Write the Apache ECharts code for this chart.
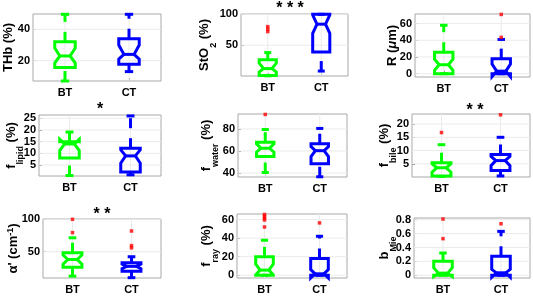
<!DOCTYPE html>
<html><head><meta charset="utf-8">
<script src="https://cdn.jsdelivr.net/npm/echarts@6/dist/echarts.min.js"></script>
<style>html,body{margin:0;padding:0;background:#fff}#c{width:533px;height:296px}</style>
</head><body><div id="c"></div>
<script>
const categories = ['BT', 'CT'];
// box stats: [lowerWhisker, q1, notchLow, median, notchHigh, q3, upperWhisker]
const thbBT = [7, 15.6, 18.5, 23, 28, 32, 49.6];
const thbCT = [13, 17.7, 21, 24, 30, 34, 49.6];
const thbOutBT = [], thbOutCT = [];
const thbTicks = [20, 40];

const sto2BT = [0.3, 1, 6.5, 12, 21, 26.5, 38];
const sto2CT = [8, 39, 69, 84, 99, 100, 100];
const sto2OutBT = [72, 76, 80], sto2OutCT = [];
const sto2Ticks = [50, 100];

const rBT = [0, 0, 4, 10.7, 17.4, 25.7, 58];
const rCT = [0, 0, -3.5, 3, 11.5, 18, 41];
const rOutBT = [], rOutCT = [43.5, 71];
const rTicks = [0, 20, 40, 60];

const lipidBT = [0.5, 8, 11.2, 14, 16, 15, 19.1];
const lipidCT = [0.8, 2, 5.8, 8.9, 11.5, 12.2, 26];
const lipidOutBT = [], lipidOutCT = [];
const lipidTicks = [5, 10, 15, 20, 25];

const waterBT = [40.5, 55, 59, 62.5, 66.5, 68, 79.5];
const waterCT = [36.6, 48.5, 55, 60.3, 64, 66.6, 80.5];
const waterOutBT = [93.2], waterOutCT = [];
const waterTicks = [40, 60, 80];

const bileBT = [0.2, 0.4, 1.8, 3.5, 5, 5.4, 12.2];
const bileCT = [0.4, 2.5, 4.3, 6.2, 7.8, 8.5, 15];
const bileOutBT = [16.8], bileOutCT = [23.5];
const bileTicks = [5, 10, 15, 20];

const alphaBT = [12.4, 26, 31, 38, 45, 48.5, 71.5];
const alphaCT = [10, 20, 24, 27.5, 31, 33, 42.3];
const alphaOutBT = [79.5, 100], alphaOutCT = [56, 59.5, 82];
const alphaTicks = [50, 100];

const rayBT = [0, 0, 0.5, 5.5, 12, 19.8, 37.7];
const rayCT = [0, 0, -3, 1.5, 6, 18, 42];
const rayOutBT = [52, 59.5, 61.5, 63.5, 65.5], rayOutCT = [56.4];
const rayTicks = [0, 20, 40, 60];

const mieBT = [0, 0, -0.02, 0.03, 0.11, 0.2, 0.32];
const mieCT = [0, 0, -0.03, 0.035, 0.085, 0.273, 0.632];
const mieOutBT = [0.527, 0.81], mieOutCT = [0.742];
const mieTicks = [0, 0.2, 0.4, 0.6, 0.8];

const FONT = '"Liberation Sans", Arial, Helvetica, sans-serif';
const BOXCOL = ['#00ff00', '#0000ff'];
const RED = '#ff0000';

const mSub = {fontSize: 13, fontWeight: 'bold', fontFamily: FONT, color: '#000', lineHeight: 14, verticalAlign: 'top'};
const sSub = {fontSize: 9, fontWeight: 'bold', fontFamily: FONT, color: '#000', lineHeight: 20, verticalAlign: 'bottom'};
const mPlain = {fontSize: 13, fontWeight: 'bold', fontFamily: FONT, color: '#000', lineHeight: 14};

const panels = [
  {name: '{m|THb (%)}', rich: {m: mPlain}, g: [33, 14, 128, 67], min: 7, max: 49.8, ticks: thbTicks, bt: thbBT, ct: thbCT, oBT: thbOutBT, oCT: thbOutCT, gap: 18},
  {name: '{m|StO}{s|2}{m| (%)}', rich: {m: mSub, s: sSub}, g: [241, 14, 107, 62], min: 0, max: 100.5, ticks: sto2Ticks, bt: sto2BT, ct: sto2CT, oBT: sto2OutBT, oCT: sto2OutCT, gap: 23},
  {name: '{m|R (}{i|μ}{m|m)}', rich: {m: mPlain, i: Object.assign({}, mPlain, {fontStyle: 'italic'})}, g: [415, 14, 115, 63], min: -4, max: 71.5, ticks: rTicks, bt: rBT, ct: rCT, oBT: rOutBT, oCT: rOutCT, gap: 16},
  {name: '{m|f}{s|lipid}{m| (%)}', rich: {m: mSub, s: sSub}, g: [39, 115, 122, 61], min: 0.3, max: 26.4, ticks: lipidTicks, bt: lipidBT, ct: lipidCT, oBT: lipidOutBT, oCT: lipidOutCT, gap: 14},
  {name: '{m|f}{s|water}{m| (%)}', rich: {m: mSub, s: sSub}, g: [238, 114, 109, 63], min: 36.4, max: 93.6, ticks: waterTicks, bt: waterBT, ct: waterCT, oBT: waterOutBT, oCT: waterOutCT, gap: 18},
  {name: '{m|f}{s|bile}{m| (%)}', rich: {m: mSub, s: sSub}, g: [412, 114, 118, 63], min: 0, max: 23.8, ticks: bileTicks, bt: bileBT, ct: bileCT, oBT: bileOutBT, oCT: bileOutCT, gap: 14},
  {name: "{m|α' (cm}{p|-1}{m|)}", rich: {m: Object.assign({}, mPlain, {verticalAlign: 'bottom'}), p: {fontSize: 9, fontWeight: 'bold', fontFamily: FONT, color: '#000', lineHeight: 4, verticalAlign: 'top'}}, g: [43, 219, 118, 59], min: 9.5, max: 100.5, ticks: alphaTicks, bt: alphaBT, ct: alphaCT, oBT: alphaOutBT, oCT: alphaOutCT, gap: 23},
  {name: '{m|f}{s|ray}{m| (%)}', rich: {m: mSub, s: sSub}, g: [237, 214, 110, 64], min: -3, max: 66, ticks: rayTicks, bt: rayBT, ct: rayCT, oBT: rayOutBT, oCT: rayOutCT, gap: 17},
  {name: '{m|b}{s|Mie}', rich: {m: mSub, s: sSub}, g: [414, 218, 116, 60], min: -0.04, max: 0.825, ticks: mieTicks, bt: mieBT, ct: mieCT, oBT: mieOutBT, oCT: mieOutCT, gap: 16}
];

function boxRender(params, api) {
  const ci = api.value(0);
  const lw = api.value(1), q1 = api.value(2), nl = api.value(3), md = api.value(4), nh = api.value(5), q3 = api.value(6), uw = api.value(7);
  const band = api.size([1, 0])[0];
  const cx = api.coord([ci, md])[0];
  const Y = t => api.coord([ci, t])[1];
  const hw = band * 0.16, nw = hw * 0.5, cw = band * 0.065;
  const col = BOXCOL[ci];
  const st = {stroke: col, lineWidth: 3, fill: null};
  return {type: 'group', children: [
    {type: 'polygon', shape: {points: [[cx - hw, Y(q1)], [cx - hw, Y(nl)], [cx - nw, Y(md)], [cx - hw, Y(nh)], [cx - hw, Y(q3)], [cx + hw, Y(q3)], [cx + hw, Y(nh)], [cx + nw, Y(md)], [cx + hw, Y(nl)], [cx + hw, Y(q1)]]}, style: Object.assign({lineJoin: 'miter'}, st)},
    {type: 'line', shape: {x1: cx - nw, y1: Y(md), x2: cx + nw, y2: Y(md)}, style: st},
    {type: 'line', shape: {x1: cx, y1: Y(q3), x2: cx, y2: Y(uw)}, style: Object.assign({lineDash: [10, 10]}, st)},
    {type: 'line', shape: {x1: cx, y1: Y(lw), x2: cx, y2: Y(q1)}, style: Object.assign({lineDash: [10, 10]}, st)},
    {type: 'line', shape: {x1: cx - cw, y1: Y(uw), x2: cx + cw, y2: Y(uw)}, style: st},
    {type: 'line', shape: {x1: cx - cw, y1: Y(lw), x2: cx + cw, y2: Y(lw)}, style: st}
  ]};
}

function gridRender(params, api) {
  const cs = params.coordSys;
  const y = api.coord([0, api.value(1)])[1];
  const ch = [{type: 'line', shape: {x1: cs.x, y1: y, x2: cs.x + cs.width, y2: y}, style: {stroke: '#ebebeb', lineWidth: 1}}];
  if (params.dataIndex === 0) {
    for (let k = 0; k < categories.length; k++) {
      const x = api.coord([k, api.value(1)])[0];
      ch.push({type: 'line', shape: {x1: x, y1: cs.y, x2: x, y2: cs.y + cs.height}, style: {stroke: '#ebebeb', lineWidth: 1}});
    }
  }
  return {type: 'group', children: ch};
}

const option = {backgroundColor: '#fff', animation: false, grid: [], xAxis: [], yAxis: [], series: []};
panels.forEach((p, i) => {
  option.grid.push({left: p.g[0], top: p.g[1], width: p.g[2], height: p.g[3], show: true, borderColor: '#a8a8a8', borderWidth: 1, containLabel: false, outerBoundsMode: 'none'});
  option.xAxis.push({type: 'category', gridIndex: i, data: categories, boundaryGap: true,
    axisLine: {show: false}, splitLine: {show: false},
    axisTick: {show: true, inside: true, alignWithLabel: true, length: 3, lineStyle: {color: '#888'}},
    axisLabel: {fontFamily: FONT, fontWeight: 'bold', fontSize: 11, color: '#000', margin: 6}});
  option.yAxis.push({type: 'value', gridIndex: i, min: p.min, max: p.max,
    axisLine: {show: false}, splitLine: {show: false},
    axisTick: {show: true, inside: true, length: 3, customValues: p.ticks, lineStyle: {color: '#888'}},
    axisLabel: {customValues: p.ticks, fontFamily: FONT, fontWeight: 'bold', fontSize: 11, color: '#000', margin: 3},
    name: p.name, nameLocation: 'middle', nameRotate: 90, nameGap: p.gap, nameMoveOverlap: false,
    nameTextStyle: {rich: p.rich}});
  option.series.push({type: 'custom', xAxisIndex: i, yAxisIndex: i, z: 1, silent: true,
    data: p.ticks.map(v => [0, v]), renderItem: gridRender});
  option.series.push({type: 'custom', xAxisIndex: i, yAxisIndex: i, z: 3, silent: true,
    encode: {x: 0, y: [1, 2, 3, 4, 5, 6, 7]},
    data: [[0].concat(p.bt), [1].concat(p.ct)], renderItem: boxRender});
  option.series.push({type: 'scatter', xAxisIndex: i, yAxisIndex: i, z: 4, silent: true,
    symbol: 'rect', symbolSize: 3.5, itemStyle: {color: RED},
    data: p.oBT.map(v => [0, v]).concat(p.oCT.map(v => [1, v]))});
});
const stars = [['* * *', 290, 9], ['*', 100, 110], ['* *', 475, 111], ['* *', 102, 215]];
option.graphic = stars.map(s => ({type: 'text', x: s[1], y: s[2], style: {text: s[0], font: 'bold 16px ' + FONT, fill: '#000', align: 'center', verticalAlign: 'middle'}}));

const chart = echarts.init(document.getElementById('c'), null, {renderer: 'canvas'});
chart.setOption(option);
</script>
</body></html>
